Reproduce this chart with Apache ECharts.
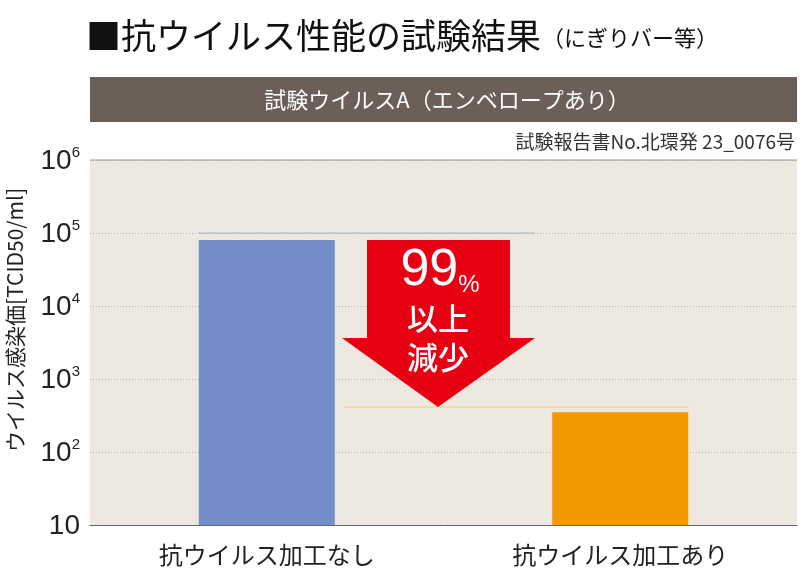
<!DOCTYPE html>
<html><head><meta charset="utf-8">
<script src="https://cdn.jsdelivr.net/npm/echarts@6/dist/echarts.min.js"></script>
<style>html,body{margin:0;padding:0;background:#fff}#c{width:800px;height:580px}</style>
</head><body><div id="c"></div>
<script>
var categories = ['抗ウイルス加工なし', '抗ウイルス加工あり'];
var values = [80000, 350];
var barColors = ['#728dc7', '#f39800'];
var tickExponents = {10: '', 100: '2', 1000: '3', 10000: '4', 100000: '5', 1000000: '6'};
var titleMain = '■抗ウイルス性能の試験結果';
var titleSub = '（にぎりバー等）';
var bannerText = '試験ウイルスA（エンベロープあり）';
var reportText = '試験報告書No.北環発 23_0076号';
var yAxisName = 'ウイルス感染価[TCID50/ml]';
var arrowLabel = ['99', '%', '以上', '減少'];
var afterLevel = 415;

var FONT = '"Noto Sans CJK JP", "Noto Sans", sans-serif';
var chart = echarts.init(document.getElementById('c'));
var option = {
  animation: false,
  textStyle: {fontFamily: FONT},
  grid: {left: 90, right: 3, top: 160, bottom: 55, show: true, backgroundColor: '#ede9e1', borderWidth: 0},
  xAxis: {
    type: 'category', data: categories,
    axisLine: {lineStyle: {color: '#666', width: 1}},
    axisTick: {show: false},
    axisLabel: {fontSize: 24, color: '#222', margin: 18, fontFamily: FONT}
  },
  yAxis: {
    type: 'log', logBase: 10, min: 10, max: 1000000,
    axisLine: {show: false}, axisTick: {show: false},
    splitLine: {show: true, lineStyle: {color: '#b9b5ae', type: [1, 2], width: 1}},
    axisLabel: {
      margin: 10,
      formatter: function (v) {
        var e = tickExponents[Math.round(v)];
        return e ? '{a|10}{b|' + e + '}' : '{a|10}';
      },
      rich: {
        a: {fontSize: 28, color: '#222', fontFamily: 'Liberation Sans, Arial, sans-serif', verticalAlign: 'bottom', lineHeight: 30},
        b: {fontSize: 15, color: '#222', fontFamily: 'Liberation Sans, Arial, sans-serif', verticalAlign: 'top', lineHeight: 30, padding: [0, 0, 14, 0]}
      }
    }
  },
  series: [{
    type: 'bar', barWidth: 136,
    data: values.map(function (v, i) { return {value: v, itemStyle: {color: barColors[i]}}; })
  }]
};
chart.setOption(option);

var yTop = chart.convertToPixel({yAxisIndex: 0}, 1000000);
var y5 = chart.convertToPixel({yAxisIndex: 0}, 100000);
var yBlue = chart.convertToPixel({yAxisIndex: 0}, values[0]);
var yAfter = chart.convertToPixel({yAxisIndex: 0}, afterLevel);
var xBlue = chart.convertToPixel({xAxisIndex: 0}, categories[0]);
var xOr = chart.convertToPixel({xAxisIndex: 0}, categories[1]);
var bw = 136;
var ax = 438, bodyL = 367, bodyR = 510, headL = 342, headR = 535;
var headY = 338;

chart.setOption({
  graphic: [
    {type: 'text', left: 86, top: 18, style: {text: titleMain, font: '400 35px ' + FONT, fill: '#111'}},
    {type: 'text', left: 542, top: 27, style: {text: titleSub, font: '400 22px ' + FONT, fill: '#111'}},
    {type: 'rect', shape: {x: 90, y: 77, width: 707, height: 45}, style: {fill: '#6b5f58'}},
    {type: 'text', x: 447, y: 100, style: {text: bannerText, font: '22px ' + FONT, fill: '#fff', textAlign: 'center', textVerticalAlign: 'middle'}},
    {type: 'text', x: 795, y: 142, style: {text: reportText, font: '19px ' + FONT, fill: '#333', textAlign: 'right', textVerticalAlign: 'middle'}},
    {type: 'text', x: 15, y: 320, rotation: Math.PI / 2, style: {text: yAxisName, font: '21px ' + FONT, fill: '#222', textAlign: 'center', textVerticalAlign: 'middle'}},
    {type: 'line', shape: {x1: 90, y1: yTop, x2: 797, y2: yTop}, style: {stroke: '#999', lineWidth: 1}},
    {type: 'line', shape: {x1: xBlue - bw / 2, y1: y5, x2: headR, y2: y5}, style: {stroke: '#aeb4c6', lineWidth: 1.5, lineDash: [2, 1]}},
    {type: 'line', shape: {x1: headL + 2, y1: yAfter, x2: xOr + bw / 2, y2: yAfter}, style: {stroke: '#f0d49c', lineWidth: 1.5}},
    {type: 'polygon', shape: {points: [[bodyL, yBlue], [bodyR, yBlue], [bodyR, headY], [headR, headY], [ax, yAfter], [headL, headY], [bodyL, headY]]}, style: {fill: '#e60012'}},
    {type: 'text', x: 440, y: 271, style: {text: '{n|' + arrowLabel[0] + '}{p|' + arrowLabel[1] + '}', textAlign: 'center', textVerticalAlign: 'middle',
      rich: {n: {font: '400 52px "Liberation Sans", Arial, sans-serif', fill: '#fff', verticalAlign: 'bottom', lineHeight: 52},
             p: {font: '24px "Liberation Sans", Arial, sans-serif', fill: '#fff', verticalAlign: 'bottom', lineHeight: 44}}}},
    {type: 'text', x: 438, y: 318, style: {text: arrowLabel[2], font: '500 31px ' + FONT, fill: '#fff', textAlign: 'center', textVerticalAlign: 'middle'}},
    {type: 'text', x: 438, y: 357, style: {text: arrowLabel[3], font: '500 31px ' + FONT, fill: '#fff', textAlign: 'center', textVerticalAlign: 'middle'}}
  ]
});
</script></body></html>
